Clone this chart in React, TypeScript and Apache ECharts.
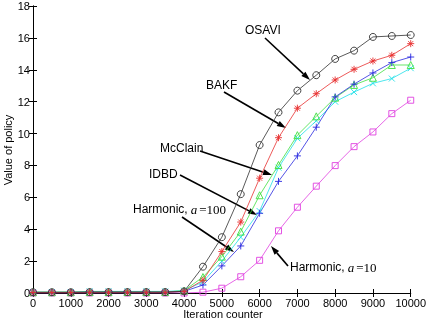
import React, { useEffect, useRef } from "react";
import * as echarts from "echarts";

const iterations = [0, 500, 1000, 1500, 2000, 2500, 3000, 3500, 4000, 4500, 5000, 5500, 6000, 6500, 7000, 7500, 8000, 8500, 9000, 9500, 10000];
const osavi = [0.05, 0.05, 0.05, 0.06, 0.06, 0.06, 0.06, 0.06, 0.1, 1.65, 3.5, 6.2, 9.28, 11.33, 12.69, 13.66, 14.68, 15.2, 16.06, 16.12, 16.18];
const bakf = [0.03, 0.03, 0.03, 0.04, 0.04, 0.04, 0.04, 0.04, 0.1, 0.8, 2.6, 4.45, 7.2, 9.74, 11.59, 12.5, 13.36, 14.03, 14.55, 14.91, 15.64];
const idbd = [0.03, 0.03, 0.03, 0.04, 0.04, 0.04, 0.04, 0.04, 0.1, 0.5, 1.7, 2.95, 5.0, 7.0, 8.6, 10.4, 12.3, 13.1, 13.8, 14.45, 14.8];
const mcclain = [0.05, 0.05, 0.05, 0.06, 0.06, 0.06, 0.06, 0.06, 0.15, 1.0, 2.28, 3.85, 6.13, 8.03, 9.9, 11.08, 12.25, 13.05, 13.5, 14.3, 14.3];
const harmonic100 = [0.05, 0.05, 0.05, 0.1, 0.1, 0.1, 0.1, 0.1, 0.15, 0.7, 2.0, 3.5, 5.14, 7.86, 9.7, 10.8, 12.0, 12.6, 13.15, 13.45, 14.1];
const harmonic10 = [0.0, 0.0, 0.0, 0.0, 0.0, 0.0, 0.0, 0.0, 0.0, 0.05, 0.3, 1.02, 2.05, 3.9, 5.38, 6.7, 7.99, 9.18, 10.1, 11.25, 12.09];

const xTicks = { min: 0, max: 10000, interval: 1000 };
const yTicks = { min: 0, max: 18, interval: 2 };

const ASTERISK = "path://M0,-5L0,5M-5,0L5,0M-3.6,-3.6L3.6,3.6M-3.6,3.6L3.6,-3.6";
const PLUS = "path://M0,-5L0,5M-5,0L5,0";
const CROSS = "path://M-5,-5L5,5M-5,5L5,-5";

function arrow(x1: number, y1: number, x2: number, y2: number) {
  const ang = Math.atan2(y2 - y1, x2 - x1);
  const L = 9;
  const W = 3;
  const bx = x2 - L * Math.cos(ang);
  const by = y2 - L * Math.sin(ang);
  const px = -Math.sin(ang) * W;
  const py = Math.cos(ang) * W;
  return [
    {
      type: "line",
      shape: { x1, y1, x2: bx, y2: by },
      style: { stroke: "#000", lineWidth: 1.6 },
      silent: true,
    },
    {
      type: "polygon",
      shape: { points: [[x2, y2], [bx + px, by + py], [bx - px, by - py]] },
      style: { fill: "#000" },
      silent: true,
    },
  ];
}

function mkSeries(name: string, vals: number[], color: string, symbol: string, size: number) {
  return {
    name,
    type: "line",
    data: iterations.map((x, i) => [x, vals[i]]),
    symbol,
    symbolSize: size,
    showSymbol: true,
    lineStyle: { color, width: 0.8 },
    itemStyle: { color: "transparent", borderColor: color, borderWidth: 0.9 },
    emphasis: { disabled: true },
  };
}

export default function App() {
  const ref = useRef<HTMLDivElement>(null);
  useEffect(() => {
    if (!ref.current) return;
    const chart = echarts.init(ref.current, undefined, { renderer: "svg" });
    const font = "'Liberation Sans', Arial, sans-serif";
    const serif = "'Liberation Serif', 'Times New Roman', serif";
    const axisCommon = {
      axisLine: { show: true, lineStyle: { color: "#000", width: 1 } },
      axisTick: { show: true, inside: true, length: 4, lineStyle: { color: "#000" } },
      splitLine: { show: false },
    };
    const labelStyle = { color: "#000", fontSize: 11, fontFamily: font, formatter: (v: number) => String(v) };
    const rich = {
      s: { fill: "#000", font: `12px ${font}` },
      i: { fill: "#000", font: `italic 13px ${serif}`, padding: [0, 0, 0, 3] },
      r: { fill: "#000", font: `13px ${serif}`, padding: [0, 0, 0, 2] },
    };
    chart.setOption({
      animation: false,
      grid: { left: 33, right: 15, top: 6, bottom: 29 },
      xAxis: [
        { type: "value", ...xTicks, position: "bottom", ...axisCommon, axisLabel: { ...labelStyle, margin: 4 } },
        { type: "value", ...xTicks, position: "top", ...axisCommon, axisLabel: { show: false } },
      ],
      yAxis: [
        { type: "value", ...yTicks, position: "left", ...axisCommon, axisLabel: { ...labelStyle, margin: 3 } },
        { type: "value", ...yTicks, position: "right", ...axisCommon, axisLabel: { show: false } },
      ],
      series: [
        mkSeries("Harmonic, a=10", harmonic10, "#e040e0", "rect", 6),
        mkSeries("Harmonic, a=100", harmonic100, "#20e0e8", CROSS, 6),
        mkSeries("McClain", mcclain, "#40e040", "triangle", 7),
        mkSeries("IDBD", idbd, "#2828e0", PLUS, 7),
        mkSeries("BAKF", bakf, "#e83030", ASTERISK, 7),
        mkSeries("OSAVI", osavi, "#303030", "circle", 7),
      ],
      graphic: [
        {
          type: "text",
          x: 8,
          y: 150,
          rotation: Math.PI / 2,
          style: { text: "Value of policy", fill: "#000", font: `11px ${font}`, align: "center", verticalAlign: "middle" },
        },
        {
          type: "text",
          x: 223,
          y: 314,
          style: { text: "Iteration counter", fill: "#000", font: `11px ${font}`, align: "center", verticalAlign: "middle" },
        },
        { type: "text", x: 245, y: 30, style: { text: "OSAVI", fill: "#000", font: `12px ${font}`, verticalAlign: "middle" } },
        { type: "text", x: 206, y: 85, style: { text: "BAKF", fill: "#000", font: `12px ${font}`, verticalAlign: "middle" } },
        { type: "text", x: 160, y: 148, style: { text: "McClain", fill: "#000", font: `12px ${font}`, verticalAlign: "middle" } },
        { type: "text", x: 149, y: 174, style: { text: "IDBD", fill: "#000", font: `12px ${font}`, verticalAlign: "middle" } },
        { type: "text", x: 133, y: 209, style: { text: "{s|Harmonic,}{i|a}{r|=100}", verticalAlign: "middle", rich } },
        { type: "text", x: 290, y: 267, style: { text: "{s|Harmonic,}{i|a}{r|=10}", verticalAlign: "middle", rich } },
        ...arrow(265, 38, 310, 80),
        ...arrow(224, 92, 286, 128),
        ...arrow(200, 151, 272, 175),
        ...arrow(180, 175, 257, 215),
        ...arrow(182, 217, 234, 252),
        ...arrow(288, 266, 271, 246),
      ],
    });
    return () => chart.dispose();
  }, []);
  return <div ref={ref} style={{ position: "fixed", left: 0, top: 0, width: 429, height: 322 }} />;
}
